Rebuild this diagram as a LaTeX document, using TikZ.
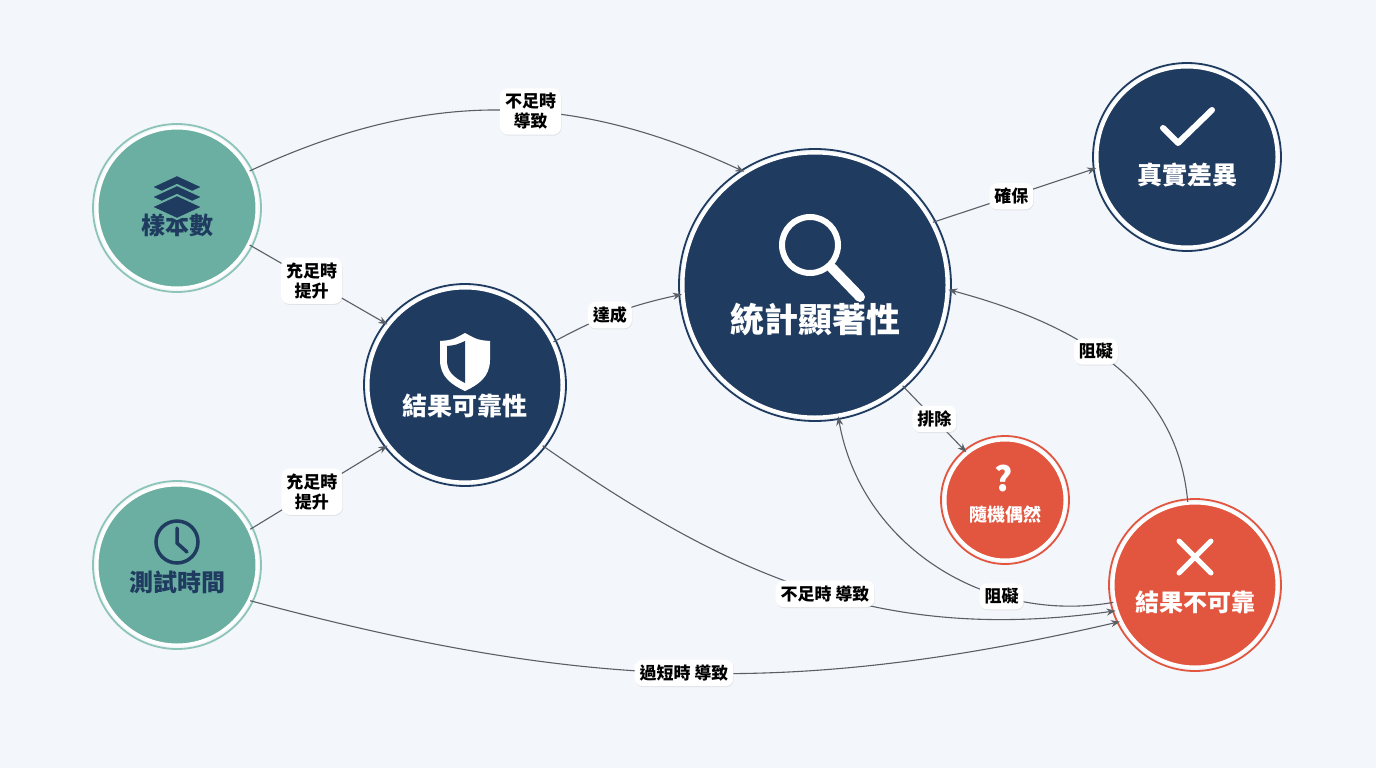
\documentclass[tikz,border=0pt]{standalone}
\usepackage{fontspec}
\setmainfont{Noto Sans CJK TC}
\usetikzlibrary{arrows.meta,shadows}
\definecolor{bg}{HTML}{F3F6FA}
\definecolor{navy}{HTML}{1F3B60}
\definecolor{teal}{HTML}{6BAFA2}
\definecolor{tealring}{HTML}{8CC4B8}
\definecolor{red}{HTML}{E2553F}
\definecolor{edge}{HTML}{5A5E66}
\tikzset{
 ball/.style={circle,draw=white,line width=3pt,align=center,font=\bfseries},
 tealball/.style={ball,fill=teal,text=navy,minimum size=160pt,font=\bfseries\fontsize{24}{28}\selectfont},
 navyball/.style={ball,fill=navy,text=white},
 redball/.style={ball,fill=red,text=white},
 lbl/.style={fill=white,rounded corners=8pt,align=center,font=\bfseries\fontsize{17}{20}\selectfont,inner sep=5pt,drop shadow={opacity=0.15,shadow xshift=0.5pt,shadow yshift=-1pt}},
 conn/.style={draw=edge,line width=1.1pt,-{Stealth[length=9pt,width=7pt]}},
}
\begin{document}
\begin{tikzpicture}[x=1pt,y=-1pt]
\fill[bg] (0,0) rectangle (1376,768);
\useasboundingbox (0,0) rectangle (1376,768);
% nodes
\node[tealball] (samp) at (177,208) {\\[28pt]樣本數};
\node[tealball] (test) at (177,565) {\\[28pt]測試時間};
\node[navyball,minimum size=194pt,font=\bfseries\fontsize{25}{30}\selectfont] (rel) at (465,385) {\\[34pt]結果可靠性};
\node[navyball,minimum size=264pt,font=\bfseries\fontsize{34}{40}\selectfont] (stat) at (815,285) {\\[58pt]統計顯著性};
\node[navyball,minimum size=180pt,font=\bfseries\fontsize{25}{30}\selectfont] (true) at (1187,157) {\\[28pt]真實差異};
\node[redball,minimum size=120pt,font=\bfseries\fontsize{18}{22}\selectfont] (rand) at (1005,500) {\\[22pt]隨機偶然};
\node[redball,minimum size=164pt,font=\bfseries\fontsize{24}{28}\selectfont] (unrel) at (1195,585) {\\[28pt]結果不可靠};
% outer rings
\draw[tealring,line width=1.8pt] (samp) circle (84pt) (test) circle (84pt);
\draw[navy,line width=1.8pt] (rel) circle (101pt) (stat) circle (136pt) (true) circle (94pt);
\draw[red,line width=1.8pt] (rand) circle (64pt) (unrel) circle (86pt);
% icons
\begin{scope}[navy]
\foreach \d in {0,10,20}{\filldraw[draw=teal,line width=2pt] (177,175+\d) -- (203,187+\d) -- (177,199+\d) -- (151,187+\d) -- cycle;}
\draw[line width=3.5pt] (177,542) circle (21pt);
\draw[line width=3.5pt,line cap=round] (177,528) -- (177,543) -- (187,552);
\end{scope}
\fill[white] (465,333) .. controls (478,340) .. (490,341) -- (490,360) .. controls (490,377) and (478,385) .. (465,391) .. controls (452,385) and (440,377) .. (440,360) -- (440,341) .. controls (452,340) .. cycle;
\fill[navy] (465,341) -- (465,383) .. controls (453,377) and (447,371) .. (447,360) -- (447,346) .. controls (456,345) .. cycle;
\draw[white,line width=6pt] (810,245) circle (28pt);
\draw[white,line width=10pt,line cap=round] (832,268) -- (860,297);
\draw[white,line width=6pt,line cap=round,line join=round] (1163,128) -- (1178,143) -- (1212,110);
\node[text=white,font=\bfseries\fontsize{34}{34}\selectfont] at (1004,478) {?};
\draw[white,line width=5pt,line cap=round] (1179,541) -- (1211,573) (1211,541) -- (1179,573);
% edges
\path[conn] (samp.27) to[out=25,in=155] node[lbl,pos=.57]{不足時\\導致} (stat.122);
\path[conn] (samp.-27) -- node[lbl,pos=.45]{充足時\\提升} (rel.142);
\path[conn] (test.26) -- node[lbl,pos=.45]{充足時\\提升} (rel.218);
\path[conn] (rel.26) to[bend left=8] node[lbl,pos=.45]{達成} (stat.184);
\path[conn] (stat.28) -- node[lbl,pos=.48]{確保} (true.187);
\path[conn] (stat.-49) -- node[lbl,pos=.5]{排除} (rand.129);
\path[conn] (unrel.95) to[out=95,in=-15] node[lbl,pos=.55]{阻礙} (stat.-2);
\path[conn] (unrel.192) to[out=190,in=-80] node[lbl,pos=.3]{阻礙} (stat.-80);
\path[conn] (rel.-38) to[out=-35,in=188] node[lbl,pos=.52]{不足時 導致} (unrel.198);
\path[conn] (test.-26) to[out=-15,in=193] node[lbl,pos=.5]{過短時 導致} (unrel.206);
\end{tikzpicture}
\end{document}
